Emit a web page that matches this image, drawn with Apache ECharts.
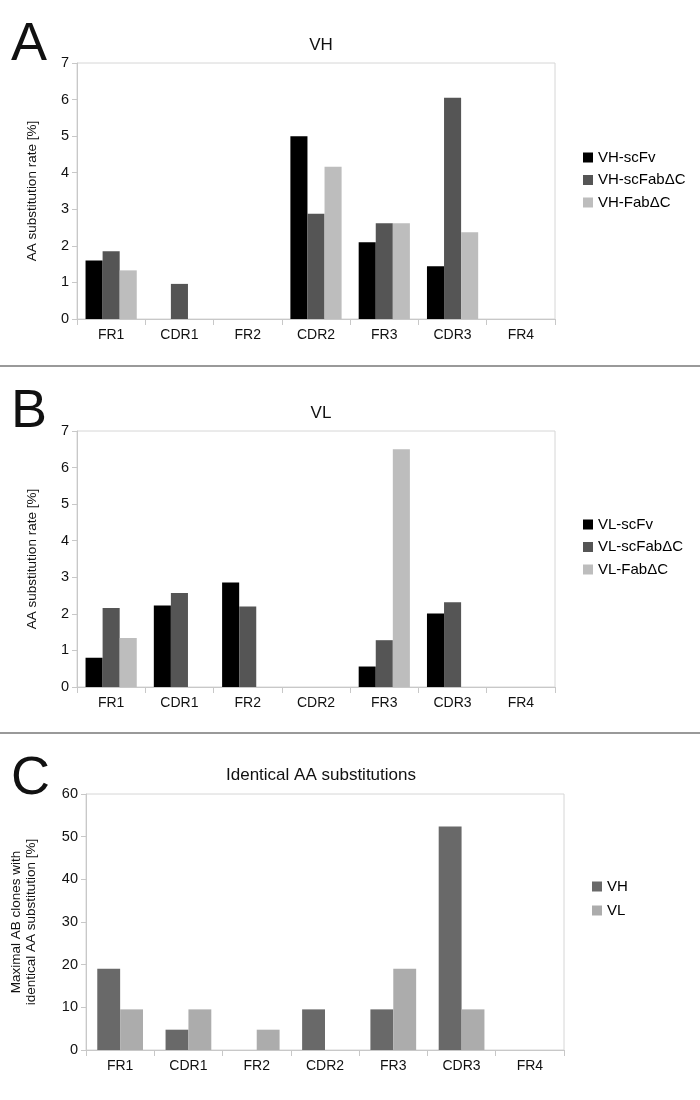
<!DOCTYPE html>
<html><head><meta charset="utf-8">
<script src="https://cdn.jsdelivr.net/npm/echarts@6/dist/echarts.min.js"></script>
<style>html,body{margin:0;padding:0;background:#fff}#c{width:700px;height:1100px}</style>
</head><body><div id="c"></div>
<script>
const categories = ['FR1','CDR1','FR2','CDR2','FR3','CDR3','FR4'];
const vhScFv    = [1.60, 0, 0, 5.00, 2.10, 1.44, 0];
const vhScFabdC = [1.85, 0.96, 0, 2.88, 2.62, 6.05, 0];
const vhFabdC   = [1.33, 0, 0, 4.16, 2.62, 2.37, 0];
const vlScFv    = [0.80, 2.23, 2.86, 0, 0.56, 2.01, 0];
const vlScFabdC = [2.16, 2.57, 2.20, 0, 1.28, 2.32, 0];
const vlFabdC   = [1.34, 0, 0, 0, 6.50, 0, 0];
const identVH   = [19.05, 4.76, 0, 9.52, 9.52, 52.38, 0];
const identVL   = [9.52, 9.52, 4.76, 0, 19.05, 9.52, 0];
const ticksAB = [0,1,2,3,4,5,6,7];
const ticksC = [0,10,20,30,40,50,60];

const FONT = 'Liberation Sans';
const chart = echarts.init(document.getElementById('c'), null, {renderer:'canvas'});
const axisGrey = '#c8c8c8';
function xAx(i){return {type:'category',gridIndex:i,data:categories,
  axisLine:{lineStyle:{color:axisGrey}},axisTick:{show:true,length:6,lineStyle:{color:axisGrey}},
  axisLabel:{color:'#111',fontSize:14,fontFamily:FONT,margin:9}};}
function yAx(i,ticks,name,gap){const interval=ticks[1]-ticks[0];
  return {type:'value',gridIndex:i,min:ticks[0],max:ticks[ticks.length-1],interval:interval,
  name:name,nameLocation:'middle',nameRotate:90,nameGap:gap,
  nameTextStyle:{color:'#111',fontSize:13.5,fontFamily:FONT,lineHeight:15},
  axisLine:{show:true,lineStyle:{color:axisGrey}},axisTick:{show:true,length:5,lineStyle:{color:axisGrey}},
  splitLine:{show:false},
  axisLabel:{color:'#111',fontSize:14.5,fontFamily:FONT,margin:8}};}
function bar(name,data,i,color,gap){return {type:'bar',name:name,data:data,xAxisIndex:i,yAxisIndex:i,
  barGap:'0%',barCategoryGap:gap,itemStyle:{color:color},silent:true};}
const legendStyle = {orient:'vertical',icon:'rect',itemWidth:10,itemHeight:10,itemGap:7.5,padding:0,
  textStyle:{fontSize:15,fontFamily:FONT,color:'#000'}};

chart.setOption({
  animation:false,
  title:[
    {text:'VH',left:316,top:32,textAlign:'center',textStyle:{fontSize:17,fontWeight:'normal',fontFamily:FONT,color:'#111'}},
    {text:'VL',left:316,top:400,textAlign:'center',textStyle:{fontSize:17,fontWeight:'normal',fontFamily:FONT,color:'#111'}},
    {text:'Identical AA substitutions',left:316,top:762,textAlign:'center',textStyle:{fontSize:17,fontWeight:'normal',fontFamily:FONT,color:'#111'}}
  ],
  graphic:[
    {type:'text',left:11,top:18,style:{text:'A',font:'54px "Liberation Sans"',fill:'#111'}},
    {type:'text',left:11,top:385,style:{text:'B',font:'54px "Liberation Sans"',fill:'#111'}},
    {type:'text',left:11,top:752,style:{text:'C',font:'54px "Liberation Sans"',fill:'#111'}},
    {type:'line',shape:{x1:0,y1:366,x2:700,y2:366},style:{stroke:'#777',lineWidth:1.5}},
    {type:'line',shape:{x1:0,y1:733,x2:700,y2:733},style:{stroke:'#777',lineWidth:1.5}}
  ],
  grid:[
    {left:77,top:63,width:478,height:256,show:true,borderColor:'#d6d6d6',borderWidth:1},
    {left:77,top:431,width:478,height:256,show:true,borderColor:'#d6d6d6',borderWidth:1},
    {left:86,top:794,width:478,height:256,show:true,borderColor:'#d6d6d6',borderWidth:1}
  ],
  xAxis:[xAx(0),xAx(1),xAx(2)],
  yAxis:[yAx(0,ticksAB,'AA substitution rate [%]',37),yAx(1,ticksAB,'AA substitution rate [%]',37),
    yAx(2,ticksC,'Maximal AB clones with\nidentical AA substitution [%]',47)],
  legend:[
    Object.assign({},legendStyle,{left:583,top:150,data:['VH-scFv','VH-scFabΔC','VH-FabΔC']}),
    Object.assign({},legendStyle,{left:583,top:517,data:['VL-scFv','VL-scFabΔC','VL-FabΔC']}),
    Object.assign({},legendStyle,{left:592,top:879,itemGap:9,data:['VH','VL']})
  ],
  series:[
    bar('VH-scFv',vhScFv,0,'#000000','25%'),
    bar('VH-scFabΔC',vhScFabdC,0,'#555555','25%'),
    bar('VH-FabΔC',vhFabdC,0,'#bdbdbd','25%'),
    bar('VL-scFv',vlScFv,1,'#000000','25%'),
    bar('VL-scFabΔC',vlScFabdC,1,'#555555','25%'),
    bar('VL-FabΔC',vlFabdC,1,'#bdbdbd','25%'),
    bar('VH',identVH,2,'#696969','33%'),
    bar('VL',identVL,2,'#acacac','33%')
  ]
});
</script></body></html>
